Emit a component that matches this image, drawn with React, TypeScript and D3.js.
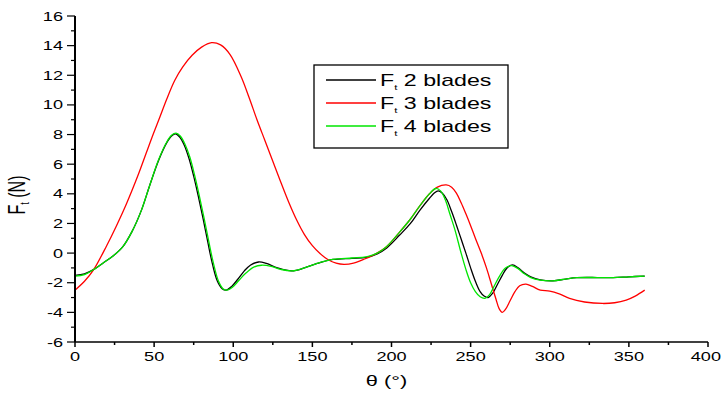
import * as d3 from "d3";

// blade count series: [theta (deg), Ft (N)]
const blades2: [number, number][] = [
  [0, -1.5], [6, -1.4], [12, -1.1], [18, -0.65], [24, -0.2], [30, 0.4], [36, 1.45],
  [42, 2.9], [47.3, 4.6], [53, 6.3], [58, 7.45], [61, 7.9], [63.5, 8.05], [66, 7.85],
  [69, 7.3], [72, 6.4], [75, 5.2], [78, 3.8], [81, 2.3], [84, 0.7], [87, -0.8],
  [90, -1.9], [93, -2.4], [95.5, -2.5], [99, -2.25], [103, -1.75], [107, -1.2],
  [111, -0.8], [116, -0.6], [121, -0.7], [128, -1.0], [137, -1.2], [145, -1.0],
  [153, -0.7], [163, -0.43], [175, -0.35], [184, -0.29], [191, -0.05], [197, 0.35],
  [205, 1.2], [212, 2.0], [218, 2.9], [224, 3.7], [227, 4.05], [229.5, 4.2],
  [232, 4.05], [235, 3.6], [238, 2.8], [241, 1.9], [244, 0.95], [247, 0], [250, -1.0],
  [253, -1.9], [256, -2.6], [258.5, -2.9], [261, -3.0], [264, -2.7], [267, -2.1],
  [270, -1.5], [273, -1.0], [276.5, -0.8], [280, -1.0], [284, -1.35], [288, -1.6],
  [294, -1.8], [302, -1.87], [310, -1.75], [317, -1.66], [330, -1.65], [340, -1.66],
  [350, -1.6], [360, -1.55],
];

const blades3: [number, number][] = [
  [0, -2.5], [6, -1.9], [11.6, -1.15], [20, 0.5], [26, 1.8], [32.6, 3.35], [40, 5.3],
  [48.4, 7.74], [53.7, 9.2], [58, 10.4], [63, 11.65], [68, 12.55], [74, 13.35],
  [80, 13.9], [86.3, 14.2], [92, 14.05], [98, 13.4], [105, 11.9], [110, 10.5],
  [115, 9.0], [120, 7.6], [125, 6.2], [130, 4.8], [135, 3.45], [140, 2.25], [145, 1.25],
  [150, 0.5], [155, -0.05], [160, -0.45], [165, -0.68], [170, -0.76], [176, -0.68],
  [183, -0.4], [190, -0.05], [197, 0.45], [205, 1.4], [212, 2.3], [218, 3.2],
  [224, 4.0], [229, 4.45], [234.6, 4.6], [238, 4.45], [241, 4.05], [244, 3.4],
  [247, 2.65], [250, 1.85], [253, 1.0], [256.7, 0], [260, -1.0], [263, -2.05],
  [266, -3.1], [268, -3.75], [270, -4.0], [272, -3.8], [275, -3.2], [278, -2.6],
  [281, -2.2], [285, -2.09], [289, -2.25], [294, -2.5], [300, -2.56], [306, -2.75],
  [312.5, -3.06], [322, -3.3], [333.5, -3.4], [341, -3.35], [348.3, -3.17],
  [354, -2.9], [360, -2.5],
];

const blades4: [number, number][] = [
  [0, -1.55], [6, -1.45], [12, -1.1], [18, -0.65], [24, -0.2], [30, 0.4], [36, 1.45],
  [42, 2.9], [47.3, 4.6], [53, 6.35], [58, 7.5], [61, 7.95], [63.8, 8.1], [66.5, 7.9],
  [69.5, 7.35], [72.5, 6.5], [75.5, 5.3], [78.5, 3.9], [81.5, 2.4], [84.5, 0.8],
  [87.5, -0.7], [90.5, -1.85], [93.5, -2.4], [96, -2.5], [99.5, -2.3], [103.5, -1.85],
  [108, -1.35], [113, -0.95], [118, -0.82], [124, -0.9], [130, -1.1], [137, -1.2],
  [145, -1.0], [153, -0.7], [163, -0.43], [175, -0.33], [184, -0.25], [191, 0.0],
  [197, 0.45], [205, 1.4], [212, 2.3], [218, 3.2], [224, 4.0], [228, 4.36],
  [231, 4.2], [234, 3.6], [237, 2.6], [240, 1.6], [244, 0], [247, -1.1], [250, -2.0],
  [253, -2.6], [256, -2.95], [259, -3.05], [262, -2.8], [265, -2.2], [268, -1.6],
  [272, -1.0], [276, -0.85], [280, -1.05], [284, -1.4], [288, -1.65], [294, -1.82],
  [302, -1.87], [310, -1.75], [317, -1.66], [330, -1.65], [340, -1.66], [350, -1.6],
  [360, -1.55],
];

const seriesNames = ["2 blades", "3 blades", "4 blades"];
const seriesColors = ["#000000", "#ff0000", "#00e600"];

const xTickValues = [0, 50, 100, 150, 200, 250, 300, 350, 400];
const yTickValues = [-6, -4, -2, 0, 2, 4, 6, 8, 10, 12, 14, 16];

// the original picture is stretched sideways, text included
const SX = 1.45;
const font = "Arial, 'Liberation Sans', sans-serif";

export default function App() {
  const width = 722;
  const height = 394;
  const margin = { top: 16, right: 14, bottom: 52, left: 75 };
  const plotW = width - margin.left - margin.right;
  const plotH = height - margin.top - margin.bottom;

  const x = d3.scaleLinear([0, 400], [margin.left, margin.left + plotW]);
  const y = d3.scaleLinear([-6, 16], [margin.top + plotH, margin.top]);
  const line = d3
    .line<[number, number]>()
    .x((d) => x(d[0]))
    .y((d) => y(d[1]))
    .curve(d3.curveCatmullRom.alpha(0.5));

  const data = [blades2, blades3, blades4];
  const xMinor = d3.range(25, 400, 50);
  const yMinor = d3.range(-5, 16, 2);
  const baseY = margin.top + plotH;
  const tickFont = 12.5;

  const legend = { x: 314, y: 65, w: 194, h: 83 };

  return (
    <svg
      width={width}
      height={height}
      style={{ position: "absolute", left: 0, top: 0, background: "#fff" }}
      fontFamily={font}
    >
      {data.map((d, i) => (
        <path
          key={seriesNames[i]}
          d={line(d) ?? ""}
          fill="none"
          stroke={seriesColors[i]}
          strokeWidth={1.3}
        />
      ))}

      {/* axes */}
      <line x1={margin.left} y1={baseY} x2={margin.left + plotW} y2={baseY} stroke="#000" strokeWidth={1.3} />
      <line x1={margin.left} y1={margin.top} x2={margin.left} y2={baseY} stroke="#000" strokeWidth={2} />
      {xTickValues.map((t) => {
        // keep the last label inside the page
        const half = (String(t).length * 0.556 * tickFont * SX) / 2;
        const lx = Math.min(x(t), width - 1 - half);
        return (
          <g key={t}>
            <line x1={x(t)} x2={x(t)} y1={baseY} y2={baseY + 5} stroke="#000" strokeWidth={1.5} />
            <text
              transform={`translate(${lx},${baseY + 19}) scale(${SX},1)`}
              textAnchor="middle"
              fontSize={tickFont}
            >
              {t}
            </text>
          </g>
        );
      })}
      {xMinor.map((t) => (
        <line key={t} x1={x(t)} x2={x(t)} y1={baseY} y2={baseY + 3} stroke="#000" strokeWidth={1.5} />
      ))}
      {yTickValues.map((t) => (
        <g key={t}>
          <line x1={margin.left - 8} x2={margin.left} y1={y(t)} y2={y(t)} stroke="#000" strokeWidth={1.2} />
          <text
            transform={`translate(${margin.left - 12},${y(t) + 4.5}) scale(${SX},1)`}
            textAnchor="end"
            fontSize={tickFont}
          >
            {t}
          </text>
        </g>
      ))}
      {yMinor.map((t) => (
        <line key={t} x1={margin.left - 4} x2={margin.left} y1={y(t)} y2={y(t)} stroke="#000" strokeWidth={1.2} />
      ))}

      {/* axis titles */}
      <text
        transform={`translate(${margin.left + plotW / 2 - 5},${height - 8}) scale(${SX},1)`}
        textAnchor="middle"
        fontSize={15}
      >
        θ (°)
      </text>
      <text
        transform={`translate(25,${margin.top + plotH / 2 + 16}) scale(${SX},1) rotate(-90)`}
        textAnchor="middle"
        fontSize={16}
      >
        F<tspan fontSize={9} dy={3}>t</tspan>
        <tspan dy={-3}> (N)</tspan>
      </text>

      {/* legend */}
      <rect x={legend.x} y={legend.y} width={legend.w} height={legend.h} fill="#fff" stroke="#000" strokeWidth={1.3} />
      {seriesNames.map((name, i) => {
        const ly = legend.y + 15 + i * 23;
        return (
          <g key={name}>
            <line x1={legend.x + 12} x2={legend.x + 62} y1={ly} y2={ly} stroke={seriesColors[i]} strokeWidth={1.3} />
            <text transform={`translate(${legend.x + 66},${ly + 6}) scale(${SX},1)`} fontSize={16}>
              F<tspan fontSize={8} dy={4}>t</tspan>
              <tspan dy={-4}> {name}</tspan>
            </text>
          </g>
        );
      })}
    </svg>
  );
}
